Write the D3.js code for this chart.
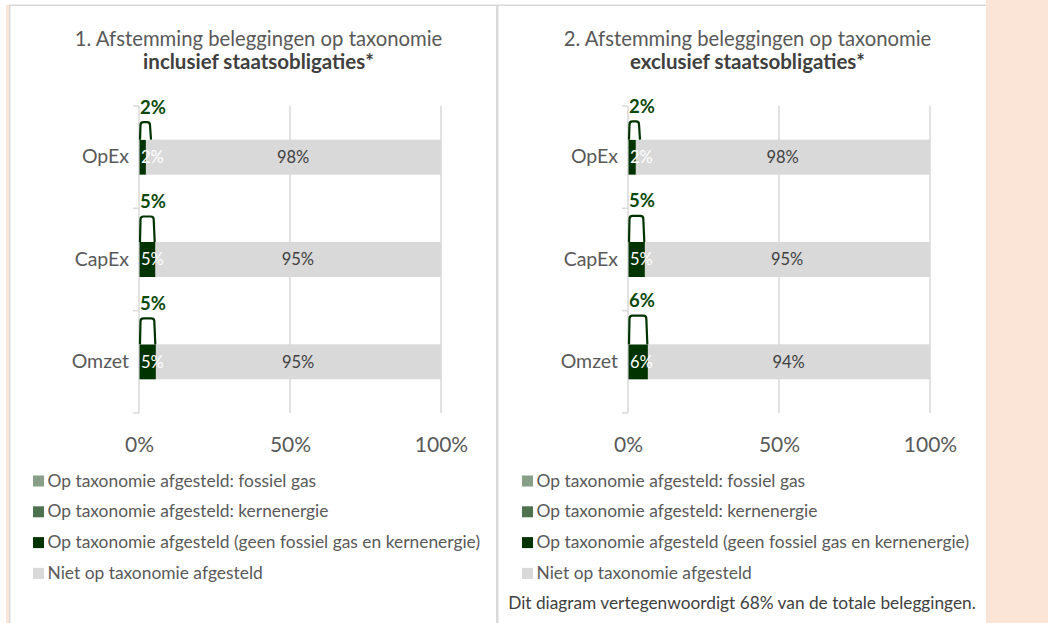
<!DOCTYPE html>
<html><head><meta charset="utf-8">
<script src="https://cdn.jsdelivr.net/npm/d3@7"></script>
<style>
body{margin:0;background:#fff}
svg{display:block}
text{font-family:Lato,"Noto Sans",sans-serif}
</style>
</head><body>
<svg id="c" width="1048" height="623"></svg>
<script>
const categories = ["OpEx", "CapEx", "Omzet"];
const alignedIncl = [2.1, 5.2, 5.4];
const notAlignedIncl = [97.9, 94.8, 94.6];
const alignedExcl = [2.4, 5.4, 6.4];
const notAlignedExcl = [97.6, 94.6, 93.6];
const xTicks = [0, 50, 100];
const legendLabels = [
  "Op taxonomie afgesteld: fossiel gas",
  "Op taxonomie afgesteld: kernenergie",
  "Op taxonomie afgesteld (geen fossiel gas en kernenergie)",
  "Niet op taxonomie afgesteld"
];
const legendColors = ["#869f86", "#4e7150", "#003300", "#d9d9d9"];
const title1 = ["1. Afstemming beleggingen op taxonomie", "inclusief staatsobligaties*"];
const title2 = ["2. Afstemming beleggingen op taxonomie", "exclusief staatsobligaties*"];
const footnote = "Dit diagram vertegenwoordigt 68% van de totale beleggingen.";

const svg = d3.select("#c");
const peach = "#fbe5d6", rule = "#d9d9d9";
const fmt = d => Math.round(d) + "%";

// frame
svg.append("rect").attr("x", 986).attr("y", 0).attr("width", 62).attr("height", 623).attr("fill", peach);
svg.append("rect").attr("x", 6).attr("y", 5).attr("width", 3).attr("height", 618).attr("fill", peach);
svg.append("rect").attr("x", 9).attr("y", 5).attr("width", 1.5).attr("height", 618).attr("fill", rule);
svg.append("rect").attr("x", 9).attr("y", 4.5).attr("width", 977).attr("height", 1.5).attr("fill", rule);
svg.append("rect").attr("x", 496).attr("y", 5).attr("width", 2.5).attr("height", 618).attr("fill", rule);

function panel(dx, title, aligned, notAligned, note) {
  const g = svg.append("g");
  const x = d3.scaleLinear().domain([0, 100]).range([139 + dx, 441 + dx]);
  const y = d3.scaleBand().domain(categories).range([106, 413]);
  const barH = y.bandwidth() * 0.342;
  const titleX = 258.5 + dx;

  // titles
  g.append("text").attr("x", titleX).attr("y", 46).attr("text-anchor", "middle")
    .attr("font-size", 20.3).attr("fill", "#595959").text(title[0]);
  g.append("text").attr("x", titleX).attr("y", 69).attr("text-anchor", "middle")
    .attr("font-size", 20.5).attr("font-weight", "bold").attr("fill", "#404040").text(title[1]);

  // gridlines
  g.selectAll(".grid").data(xTicks.filter(t => t > 0)).join("line")
    .attr("x1", d => x(d)).attr("x2", d => x(d)).attr("y1", 106).attr("y2", 413)
    .attr("stroke", rule).attr("stroke-width", 1.5);
  // category axis line + boundary ticks
  g.append("line").attr("x1", x(0)).attr("x2", x(0)).attr("y1", 106).attr("y2", 413)
    .attr("stroke", rule).attr("stroke-width", 1.5);
  const bounds = categories.map(c => y(c)).concat([y.range()[1]]);
  g.selectAll(".tk").data(bounds).join("line")
    .attr("x1", x(0) - 6).attr("x2", x(0)).attr("y1", d => d).attr("y2", d => d)
    .attr("stroke", rule).attr("stroke-width", 1.5);

  // category labels
  const ya = g.append("g").attr("transform", `translate(${x(0)},0)`)
    .call(d3.axisLeft(y).tickSize(0).tickPadding(10));
  ya.select(".domain").remove();
  ya.selectAll("text").attr("font-size", 19.5).attr("fill", "#595959").attr("font-family", "Lato");

  // x axis labels
  const xa = g.append("g").attr("transform", `translate(0,413)`)
    .call(d3.axisBottom(x).tickValues(xTicks).tickFormat(d => d + "%").tickSize(0));
  xa.select(".domain").remove();
  xa.selectAll("text").attr("y", 39).attr("dy", 0).attr("font-size", 21)
    .attr("fill", "#595959").attr("font-family", "Lato");

  const rows = categories.map((c, i) => ({c, a: aligned[i], n: notAligned[i]}));
  const by = d => y(d.c) + (y.bandwidth() - barH) / 2;

  // not aligned bars
  g.selectAll(".na").data(rows).join("rect")
    .attr("x", d => x(d.a)).attr("width", d => x(d.a + d.n) - x(d.a))
    .attr("y", by).attr("height", barH).attr("fill", legendColors[3]);
  // aligned bars
  g.selectAll(".al").data(rows).join("rect")
    .attr("x", x(0) + 0.5).attr("width", d => x(d.a) - x(0))
    .attr("y", by).attr("height", barH).attr("fill", legendColors[2]);

  // labels on bars
  g.selectAll(".nal").data(rows).join("text")
    .attr("x", d => (x(d.a) + x(d.a + d.n)) / 2).attr("y", d => by(d) + barH / 2).attr("dy", "0.36em")
    .attr("text-anchor", "middle").attr("font-size", 16.5).attr("fill", "#404040").text(d => fmt(d.n));
  g.selectAll(".all").data(rows).join("text")
    .attr("x", x(0) + 2).attr("y", d => by(d) + barH / 2).attr("dy", "0.36em")
    .attr("font-size", 16.5).attr("fill", "#ffffff").text(d => fmt(d.a));

  // outlined total markers above bars
  const oh = d => 12 + 2.6 * d.a;
  const ow = d => Math.max(x(d.a) - x(0) - 1, 11);
  g.selectAll(".ol").data(rows).join("path")
    .attr("d", d => {
      const x0 = x(0) + 1, x1 = x0 + ow(d), yb = by(d), yt = yb - oh(d);
      return `M${x0},${yb} L${x0 + 0.5},${yt + 3} Q${x0 + 0.5},${yt} ${x0 + 3.5},${yt} ` +
             `L${x1 - 4},${yt} Q${x1 - 1},${yt} ${x1 - 1},${yt + 3} L${x1},${yb}`;
    })
    .attr("fill", "#ffffff").attr("stroke", "#003300").attr("stroke-width", 2.2);
  g.selectAll(".tl").data(rows).join("text")
    .attr("x", x(0) + 1).attr("y", d => by(d) - oh(d) - 8.5)
    .attr("font-size", 18.5).attr("font-weight", "bold").attr("fill", "#0b4a0b").text(d => fmt(d.a));

  // legend
  const lg = g.selectAll(".lg").data(legendLabels).join("g")
    .attr("transform", (d, i) => `translate(${33 + dx},${486.5 + i * 30.8})`);
  lg.append("rect").attr("x", 0).attr("y", -11).attr("width", 11).attr("height", 11)
    .attr("fill", (d, i) => legendColors[i]);
  lg.append("text").attr("x", 14.5).attr("y", 0).attr("font-size", 17.4).attr("fill", "#595959").text(d => d);

  if (note) {
    g.append("text").attr("x", 742).attr("y", 609).attr("text-anchor", "middle")
      .attr("font-size", 17.3).attr("fill", "#404040").text(note);
  }
}

panel(0, title1, alignedIncl, notAlignedIncl, null);
panel(489, title2, alignedExcl, notAlignedExcl, footnote);
</script>
</body></html>
